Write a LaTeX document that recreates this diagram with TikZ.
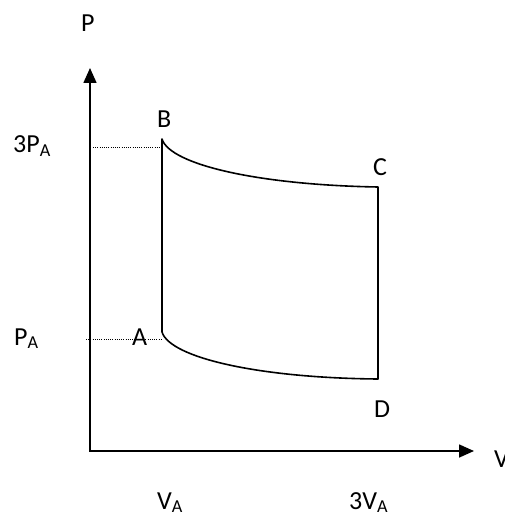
\documentclass[tikz,border=0pt]{standalone}
\usepackage{fontspec}
\setmainfont{Carlito}
\usetikzlibrary{arrows.meta}
\begin{document}
\begin{tikzpicture}[x=1pt,y=-1pt,font=\fontsize{26}{30}\selectfont,
        lbl/.style={anchor=base west,inner sep=0pt},
        axis/.style={line width=1.6pt,{Triangle[length=15pt,width=13pt]}-{Triangle[length=15pt,width=13pt]}},
        cycleline/.style={line width=1.6pt,line join=round},
        guide/.style={line width=0.9pt,dash pattern=on 1pt off 1.2pt}]
        \useasboundingbox (0,0) rectangle (504,518);

        % 坐标轴
        \coordinate (O) at (90,451);
        \coordinate (ytip) at (90,68);
        \coordinate (xtip) at (474,451);
        \draw[axis] (ytip) -- (O) -- (xtip);

        % 状态点
        \coordinate (A) at (162,332);
        \coordinate (B) at (162,139);
        \coordinate (C) at (378,187);
        \coordinate (D) at (378,379);

        % 循环
        \draw[cycleline] (A) -- (B) .. controls (170,165) and (260,185) .. (C)
            -- (D) .. controls (260,378) and (170,358) .. (A);

        % 虚线
        \coordinate (pa) at (86,339);
        \coordinate (pb) at (93,147);
        \draw[guide] (pa) -- (162,339);
        \draw[guide] (pb) -- (162,147);

        \node[lbl] (lP) at (81,32) {P};
        \node[lbl] (lV) at (494,467) {V};
        \node[lbl] (l3PA) at (13,153) {3P\textsubscript{A}};
        \node[lbl] (lPA) at (14,345) {P\textsubscript{A}};
        \node[lbl] (lVA) at (157,509) {V\textsubscript{A}};
        \node[lbl] (l3VA) at (349,509) {3V\textsubscript{A}};
        \node[lbl] (lA) at (132,345) {A};
        \node[lbl] (lB) at (157,128) {B};
        \node[lbl] (lC) at (373,176) {C};
        \node[lbl] (lD) at (374,417) {D};
    \end{tikzpicture}
\end{document}
